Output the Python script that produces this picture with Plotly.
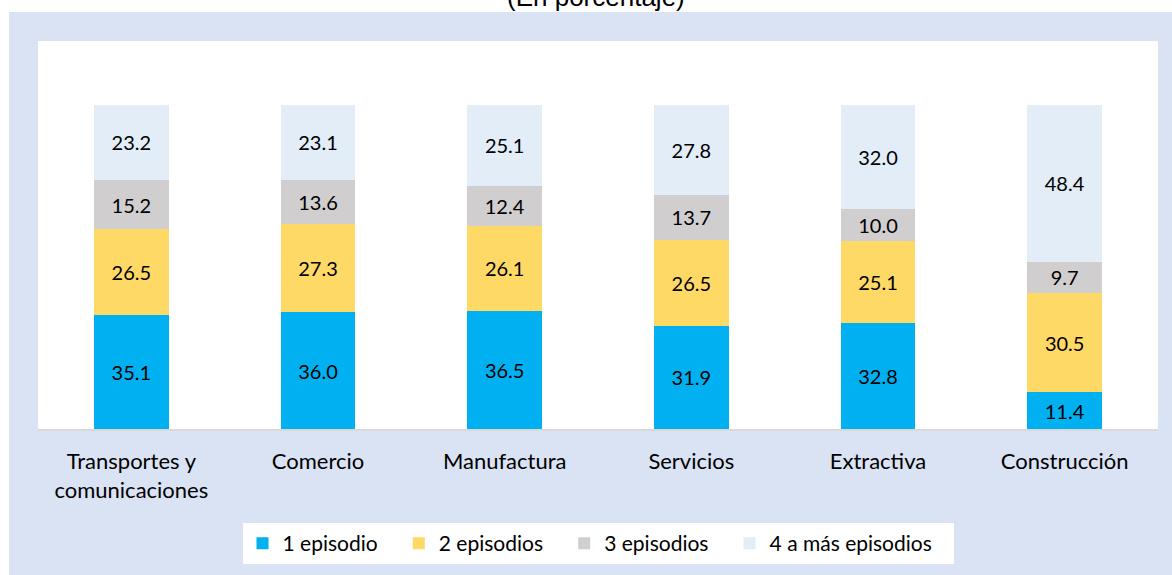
import plotly.graph_objects as go

categories = ["Transportes y<br>comunicaciones", "Comercio", "Manufactura", "Servicios", "Extractiva", "Construcción"]
ep1 = [35.1, 36.0, 36.5, 31.9, 32.8, 11.4]
ep2 = [26.5, 27.3, 26.1, 26.5, 25.1, 30.5]
ep3 = [15.2, 13.6, 12.4, 13.7, 10.0, 9.7]
ep4 = [23.2, 23.1, 25.1, 27.8, 32.0, 48.4]
series_names = ["1 episodio", "2 episodios", "3 episodios", "4 a más episodios"]
colors = ["#00b0f0", "#ffd966", "#d0cece", "#e2edf8"]
title = "(En porcentaje)"

FONT = "Lato"
W, H = 1172, 575
ml, mr, mt, mb = 38, 14, 41, 145
pw, ph = W - ml - mr, H - mt - mb

def px_x(x):
    return (x - ml) / pw

def px_y(y):
    return (H - mb - y) / ph

PAD = "\u00a0" * 3

fig = go.Figure()
for name, vals, col in zip(series_names, [ep1, ep2, ep3, ep4], colors):
    fig.add_trace(go.Bar(
        x=categories, y=vals, name=name + PAD, marker=dict(color=col, line=dict(width=0)),
        texttemplate="%{y:.1f}", textposition="inside", insidetextanchor="middle",
        textangle=0, constraintext="none",
        textfont=dict(family=FONT, size=20, color="#000000"),
        hoverinfo="skip",
    ))

fig.update_layout(
    barmode="stack", bargap=0.6,
    width=W, height=H,
    margin=dict(l=ml, r=mr, t=mt, b=mb),
    paper_bgcolor="#dae3f3", plot_bgcolor="#ffffff",
    font=dict(family=FONT, size=21, color="#000000"),
    showlegend=True,
    legend=dict(orientation="h", x=px_x(598), y=px_y(543.5), xanchor="center", yanchor="middle",
                bgcolor="#ffffff", font=dict(family=FONT, size=21, color="#000000"),
                traceorder="normal", itemwidth=30),
    shapes=[
        dict(type="rect", xref="paper", yref="paper", x0=px_x(-5), x1=px_x(9), y0=px_y(H + 5), y1=px_y(-5),
             fillcolor="#ffffff", line=dict(width=0), layer="below"),
        dict(type="rect", xref="paper", yref="paper", x0=px_x(-5), x1=px_x(W + 5), y0=px_y(12), y1=px_y(-5),
             fillcolor="#ffffff", line=dict(width=0), layer="below"),
    ],
    annotations=[dict(text=title, xref="paper", yref="paper", x=px_x(596), y=px_y(-3),
                      xanchor="center", yanchor="middle", showarrow=False,
                      font=dict(family="Liberation Sans", size=26, color="#000000"))],
)
fig.update_xaxes(showline=True, linecolor="#d9d9d9", linewidth=2, ticks="", showgrid=False,
                 tickfont=dict(family=FONT, size=22, color="#000000"), ticklabelstandoff=12)
fig.update_yaxes(range=[0, 119.7], visible=False, showgrid=False)

fig.write_html("out.html", config={"displayModeBar": False},
               post_script="document.body.style.margin='0';")
